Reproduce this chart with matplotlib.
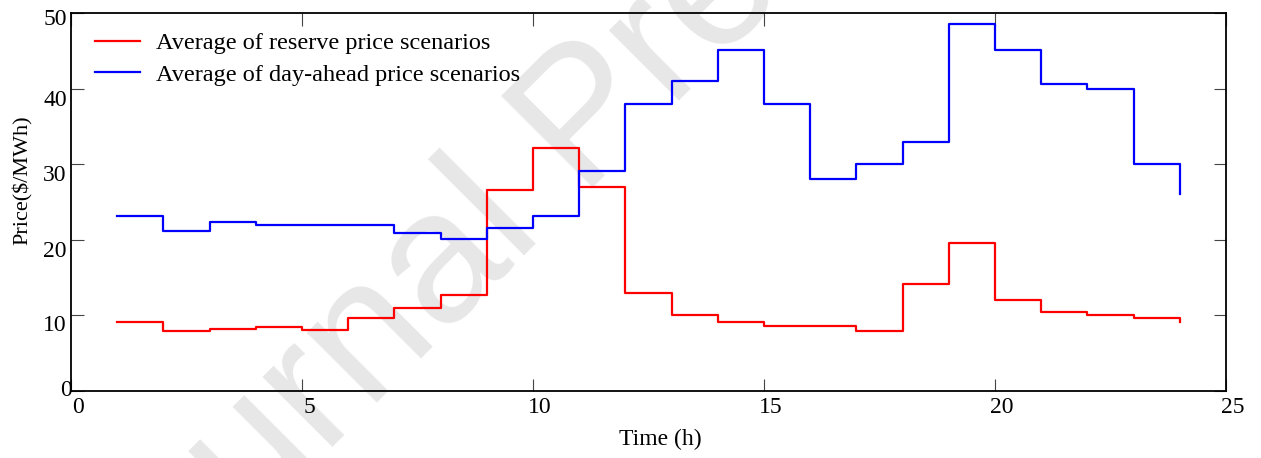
import matplotlib
matplotlib.use('Agg')
import matplotlib.pyplot as plt
from matplotlib.transforms import ScaledTranslation

hours = list(range(1, 25))
reserve = [9.1, 8.0, 8.15, 8.4, 8.05, 9.6, 11.0, 12.7, 26.6, 32.1, 27.0, 13.0,
           10.0, 9.1, 8.6, 8.6, 8.0, 14.1, 19.6, 12.1, 10.5, 10.0, 9.6, 9.1]
dayahead = [23.1, 21.1, 22.3, 22.0, 22.0, 22.0, 20.9, 20.1, 21.5, 23.1, 29.1, 38.0,
            41.0, 45.1, 38.0, 28.1, 30.0, 33.0, 48.6, 45.1, 40.6, 39.9, 30.0, 26.0]
xticks = [0, 5, 10, 15, 20, 25]
yticks = [0, 10, 20, 30, 40, 50]
labels = ['Average of reserve price scenarios', 'Average of day-ahead price scenarios']

W, H = 1261, 458
fig = plt.figure(figsize=(W / 100, H / 100), dpi=100)
ax = fig.add_axes([71 / W, 67 / H, 1155 / W, 378 / H])
ax.patch.set_visible(False)
ax.set_zorder(2)

serif = 'Liberation Serif'
fs = 17

# watermark (behind everything)
fig.text(588 / W, 1 - 123 / H, 'Journal Pre-proof', rotation=45, fontsize=135,
         color='#e7e7e7', family='Liberation Sans', ha='center', va='center',
         rotation_mode='anchor', zorder=-5)

ax.plot(hours, reserve, drawstyle='steps-post', color='#ff0000', lw=1.6, label=labels[0])
ax.plot(hours, dayahead, drawstyle='steps-post', color='#0000ff', lw=1.6, label=labels[1])

ax.set_xlim(0, 25)
ax.set_ylim(0, 50)
ax.set_xticks(xticks)
ax.set_yticks(yticks)
ax.set_xticklabels([str(v) for v in xticks], family=serif, fontsize=fs)
ax.set_yticklabels([str(v) for v in yticks], family=serif, fontsize=fs)
ax.tick_params(direction='in', length=9, width=0.8, top=True, right=True,
               color='#444444')
ax.tick_params(axis='x', pad=4)
ax.tick_params(axis='y', pad=3)
for sp in ax.spines.values():
    sp.set_linewidth(1.3)

for lab in ax.get_xticklabels():
    lab.set_transform(lab.get_transform() + ScaledTranslation(7 / 100, 0, fig.dpi_scale_trans))
ydx = [5, 0, 0, 0, 0, 0]
ydy = [3, -8, -9, -9, -9, -4]
for lab, dx, dy in zip(ax.get_yticklabels(), ydx, ydy):
    lab.set_transform(lab.get_transform() + ScaledTranslation(dx / 100, dy / 100, fig.dpi_scale_trans))

ax.set_xlabel('Time (h)', family=serif, fontsize=fs)
ax.set_ylabel('Price($/MWh)', family=serif, fontsize=16)
ax.xaxis.set_label_coords((660 - 71) / 1155, (391 - 439) / 378)
ax.xaxis.label.set_va('center')
ax.yaxis.set_label_coords((23 - 71) / 1155, (391 - 180) / 378)
ax.yaxis.label.set_va('center')

ax.legend(loc='upper left', bbox_to_anchor=(24 / 1155, 1 - 19 / 378), frameon=False,
          handlelength=1.85, handletextpad=0.65, borderpad=0, borderaxespad=0,
          labelspacing=0.4, prop={'family': serif, 'size': 17.5})

fig.savefig('out.png', dpi=100)
